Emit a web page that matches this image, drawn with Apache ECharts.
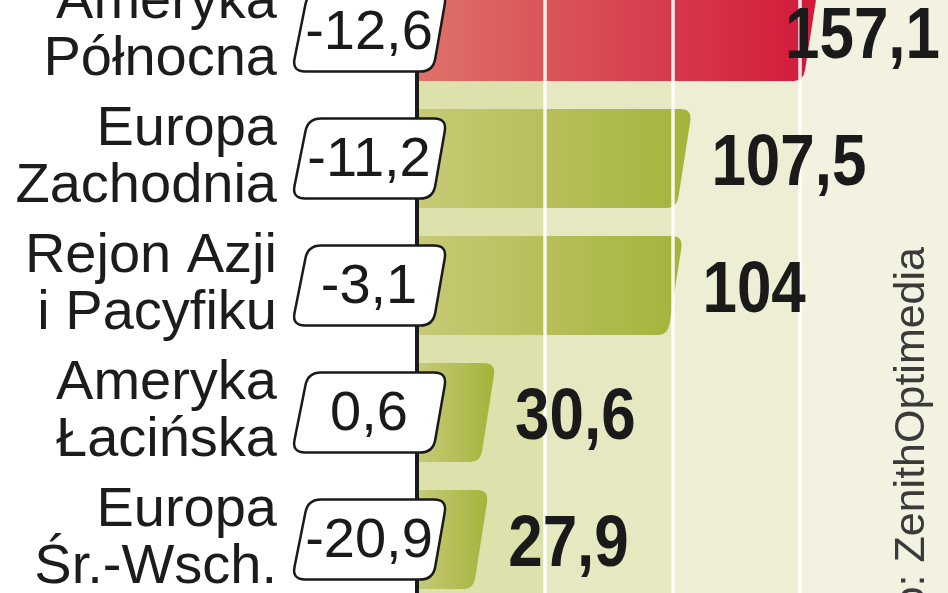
<!DOCTYPE html>
<html><head><meta charset="utf-8">
<script src="https://cdn.jsdelivr.net/npm/echarts@6/dist/echarts.min.js"></script>
<style>html,body{margin:0;padding:0;background:#fff}#c{width:948px;height:593px}</style>
</head><body><div id="c"></div>
<script>
const categories = ['Ameryka\nPółnocna', 'Europa\nZachodnia', 'Rejon Azji\ni Pacyfiku', 'Ameryka\nŁacińska', 'Europa\nŚr.-Wsch.'];
const values = [157.1, 107.5, 104, 30.6, 27.9];
const changes = [-12.6, -11.2, -3.1, 0.6, -20.9];
const gridTicks = [50, 100, 150];
const sourceText = 'Źródło: ZenithOptimedia';

const FONT = '"Liberation Sans", Arial, sans-serif';
const BOLD_SCALE = 0.86;
function fmt(v) { return String(v).replace('.', ','); }

const measureCtx = document.createElement('canvas').getContext('2d');
function textWidth(t, font) { measureCtx.font = font; return measureCtx.measureText(t).width; }

function roundedPoly(pts, r) {
  const n = pts.length; let d = '';
  for (let i = 0; i < n; i++) {
    const p = pts[i], prev = pts[(i - 1 + n) % n], next = pts[(i + 1) % n];
    const l1 = Math.hypot(prev[0] - p[0], prev[1] - p[1]);
    const l2 = Math.hypot(next[0] - p[0], next[1] - p[1]);
    const a = [p[0] + (prev[0] - p[0]) * r / l1, p[1] + (prev[1] - p[1]) * r / l1];
    const b = [p[0] + (next[0] - p[0]) * r / l2, p[1] + (next[1] - p[1]) * r / l2];
    d += (i === 0 ? 'M' : 'L') + a[0] + ',' + a[1] + ' Q' + p[0] + ',' + p[1] + ' ' + b[0] + ',' + b[1] + ' ';
  }
  return d + 'Z';
}

const barData = values.map((v, i) => [v, i, changes[i]]);

function renderBar(params, api) {
  const v = api.value(0), idx = api.value(1);
  const start = api.coord([0, idx]);
  const end = api.coord([v, idx]);
  const band = api.size([0, 1])[1];
  const h = band * 0.78;
  const top = start[1] - h / 2, bot = start[1] + h / 2;
  const x0 = start[0] + 2, xe = end[0];
  const s = 13, r = 11;
  const d = 'M' + x0 + ',' + top + ' L' + (xe - r) + ',' + top + ' Q' + xe + ',' + top + ' ' + (xe - 1) + ',' + (top + r) +
    ' L' + (xe - s) + ',' + (bot - r) + ' Q' + (xe - s - 2) + ',' + bot + ' ' + (xe - s - r) + ',' + bot +
    ' L' + x0 + ',' + bot + ' Z';
  const colors = idx === 0 ? ['#de7169', '#d2193a'] : ['#c6ca76', '#a5b33b'];
  return {
    type: 'path',
    shape: { pathData: d },
    style: { fill: new echarts.graphic.LinearGradient(0, 0, 1, 0, [{ offset: 0, color: colors[0] }, { offset: 1, color: colors[1] }]) }
  };
}

function renderLabels(params, api) {
  const v = api.value(0), idx = api.value(1), ch = api.value(2);
  const start = api.coord([0, idx]);
  const end = api.coord([v, idx]);
  const A = start[0], cy = start[1];
  const bh = 40, sk = 4;
  const pts = [[A - 113 + sk, cy - bh], [A + 26 + sk, cy - bh], [A + 20 - sk, cy + bh], [A - 121 - sk, cy + bh]];
  const label = fmt(v);
  const bfont = 'bold 72px ' + FONT;
  const w = textWidth(label, bfont) * BOLD_SCALE;
  const lx = Math.min(end[0] + 20, params.coordSys.x + params.coordSys.width - 8 - w);
  return {
    type: 'group',
    children: [
      { type: 'path', shape: { pathData: roundedPoly(pts, 13) }, style: { fill: '#fff', stroke: '#1a1a1a', lineWidth: 2.5 } },
      { type: 'text', style: { text: fmt(ch), x: A - 48, y: cy + 2, align: 'center', verticalAlign: 'middle', font: '56px ' + FONT, fill: '#1a1a1a' } },
      { type: 'text', x: lx, y: cy + 7, scaleX: BOLD_SCALE, style: { text: label, x: 0, y: 0, align: 'left', verticalAlign: 'middle', font: bfont, fill: '#1a1a1a' } }
    ]
  };
}

const chart = echarts.init(document.getElementById('c'), null, { renderer: 'canvas' });
chart.setOption({
  backgroundColor: '#ffffff',
  animation: false,
  grid: { left: 417, right: 0, top: -32, height: 635, outerBoundsMode: 'none', containLabel: false },
  xAxis: {
    type: 'value', min: 0, max: 208, interval: 50,
    axisLine: { show: false }, axisTick: { show: false }, axisLabel: { show: false },
    splitLine: { show: false },
    splitArea: { show: true, areaStyle: { color: ['#dde2ad', '#e5e8c1', '#edeed4', '#f3f2e1', '#f3f2e1'] } }
  },
  yAxis: {
    type: 'category', inverse: true, data: categories,
    axisLine: { show: true, lineStyle: { color: '#1a1a1a', width: 4 } },
    axisTick: { show: false },
    axisLabel: { fontSize: 56, lineHeight: 57, color: '#1c1c1c', margin: 140, fontFamily: FONT }
  },
  series: [
    {
      type: 'custom', renderItem: renderBar, data: barData, encode: { x: 0, y: 1 }, z: 2,
      markLine: {
        silent: true, symbol: ['none', 'none'], label: { show: false },
        lineStyle: { color: '#ffffff', width: 3.5, type: 'solid', opacity: 0.9 },
        data: gridTicks.map(t => ({ xAxis: t }))
      }
    },
    { type: 'custom', renderItem: renderLabels, data: barData, encode: { x: 0, y: 1 }, z: 10 }
  ],
  graphic: [{
    type: 'text', x: 912, y: 247, rotation: Math.PI / 2, z: 20,
    style: { text: sourceText, align: 'right', verticalAlign: 'middle', font: '43px ' + FONT, fill: '#3a3a3a' }
  }]
});
</script></body></html>
